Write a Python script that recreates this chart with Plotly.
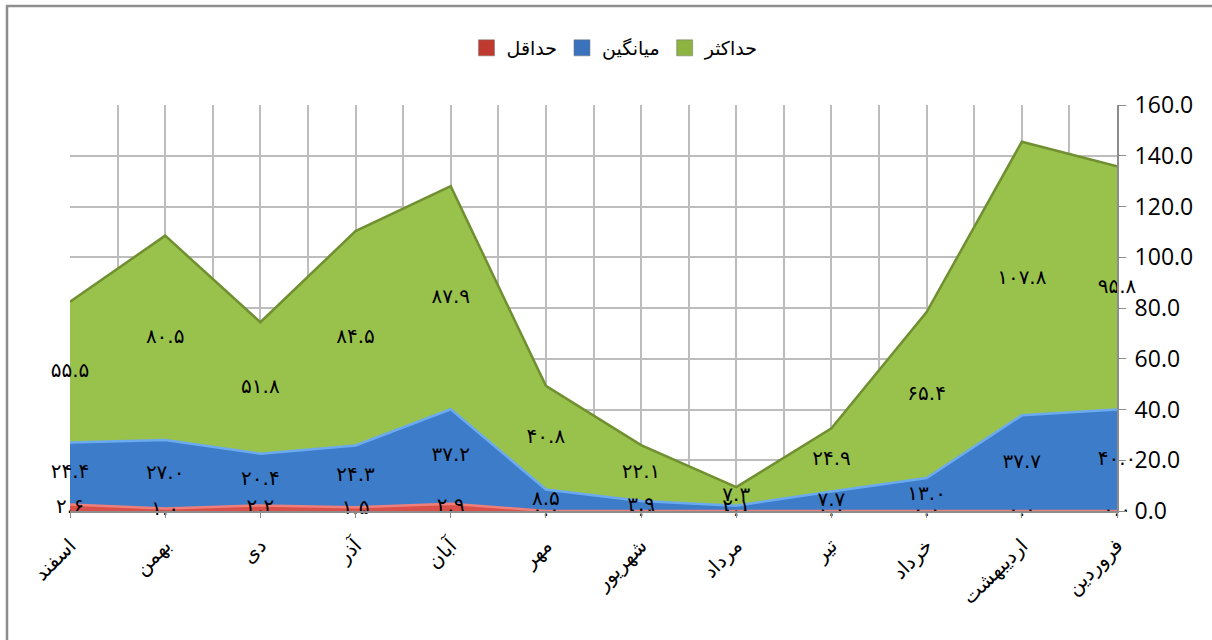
import plotly.graph_objects as go

months = ["فروردین", "اردیبهشت", "خرداد", "تیر", "مرداد", "شهریور",
          "مهر", "آبان", "آذر", "دی", "بهمن", "اسفند"]
min_vals = [0.0, 0.0, 0.0, 0.0, 0.0, 0.0, 0.0, 2.9, 1.5, 2.2, 1.0, 2.6]
mean_vals = [40.0, 37.7, 13.0, 7.7, 2.1, 3.9, 8.5, 37.2, 24.3, 20.4, 27.0, 24.4]
max_vals = [95.8, 107.8, 65.4, 24.9, 7.3, 22.1, 40.8, 87.9, 84.5, 51.8, 80.5, 55.5]

series_names = ["حداقل", "میانگین", "حداکثر"]
y_ticks = [0, 20, 40, 60, 80, 100, 120, 140, 160]

x = list(range(len(months)))
fa = str.maketrans("0123456789", "۰۱۲۳۴۵۶۷۸۹")


def fa_num(v):
    return f"{v:.1f}".translate(fa)


fig = go.Figure()
fills = ["#D9504A", "#3D7CC9", "#99C24D"]
lines = ["#EE7F7A", "#6CAAF0", "#6F8F30"]
swatch = ["#C0392F", "#3A72BE", "#8DB440"]
series = [min_vals, mean_vals, max_vals]
for name, vals, fc, lc in zip(series_names, series, fills, lines):
    fig.add_trace(go.Scatter(
        x=x, y=vals, name=name, stackgroup="one", mode="lines",
        line=dict(color=lc, width=2.5), fillcolor=fc, hoverinfo="skip",
        showlegend=False))

# legend entries with square swatches
for name, sc in zip(series_names, swatch):
    fig.add_trace(go.Scatter(
        x=[None], y=[None], name=name, mode="markers",
        marker=dict(symbol="square", size=16, color=sc,
                    line=dict(color="#707070", width=0.5)),
        showlegend=True))

# data labels at the middle of each band
base = [0.0] * len(months)
for vals in series:
    mids = [b + v / 2 for b, v in zip(base, vals)]
    fig.add_trace(go.Scatter(
        x=x, y=mids, mode="text", text=[fa_num(v) for v in vals],
        textfont=dict(family="DejaVu Sans", size=20, color="black"),
        showlegend=False, hoverinfo="skip", cliponaxis=False))
    base = [b + v for b, v in zip(base, vals)]

L, R, T, B = 70, 1117, 105, 511
W, H = 1212, 640
pw, ph = R - L, B - T

fig.update_layout(
    width=W, height=H,
    margin=dict(l=L, r=W - R, t=T, b=H - B, autoexpand=False),
    paper_bgcolor="white", plot_bgcolor="white",
    legend=dict(orientation="h", x=(615 - L) / pw, xanchor="center",
                y=(B - 48) / ph, yanchor="middle", traceorder="normal",
                font=dict(family="DejaVu Sans", size=19, color="black"),
                bgcolor="rgba(0,0,0,0)"),
    xaxis=dict(range=[len(months) - 1, 0], tickvals=x, ticktext=months,
               tickangle=-45, ticks="outside", ticklen=5, tickcolor="#8C8C8C",
               ticklabelstandoff=8,
               showgrid=True, gridcolor="#BDBDBD", gridwidth=2,
               minor=dict(dtick=0.5, tick0=0, showgrid=True,
                          gridcolor="#BDBDBD", gridwidth=2),
               showline=True, linecolor="#8C8C8C", linewidth=2,
               tickfont=dict(family="DejaVu Sans", size=20, color="black"),
               zeroline=False, automargin=False),
    yaxis=dict(range=[0, 160], tickvals=y_ticks, tickformat=".1f",
               side="right", ticks="outside", ticklen=7, tickcolor="#8C8C8C",
               ticklabelstandoff=4,
               showgrid=True, gridcolor="#BDBDBD", gridwidth=2,
               showline=True, linecolor="#8C8C8C", linewidth=2,
               tickfont=dict(family="Open Sans", size=23, color="black"),
               zeroline=False, automargin=False),
    shapes=[dict(type="rect", xref="paper", yref="paper",
                 x0=(7 - L) / pw, x1=(W + 5 - L) / pw,
                 y0=(B - (H + 5)) / ph, y1=(B - 6) / ph,
                 line=dict(color="#8E8E8E", width=2.5), layer="below")],
)

fig.write_html("out.html", config={"displayModeBar": False},
               post_script="document.body.style.margin='0';document.body.style.overflow='hidden';")
